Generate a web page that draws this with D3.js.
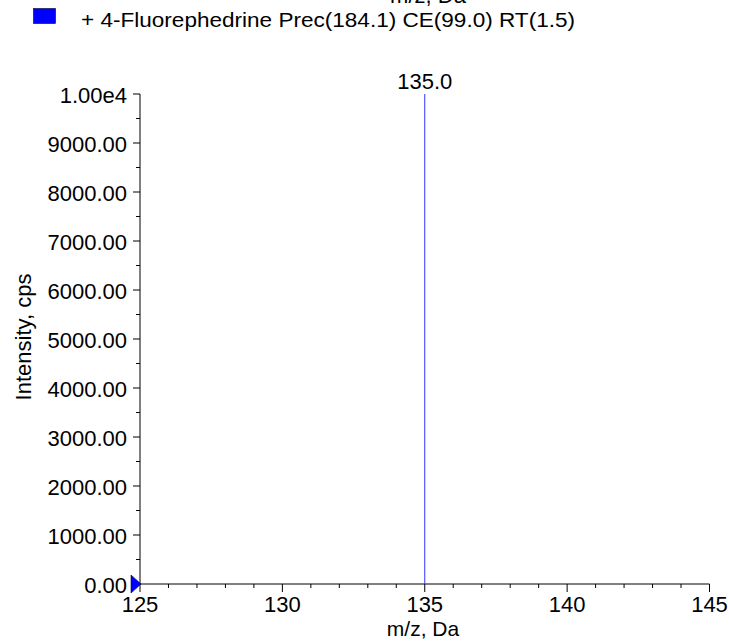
<!DOCTYPE html>
<html>
<head>
<meta charset="utf-8">
<script src="https://cdn.jsdelivr.net/npm/d3@7"></script>
<style>
  body { margin: 0; background: #fff; }
  text { font-family: "Liberation Sans", Arial, sans-serif; fill: #000; }
</style>
</head>
<body>
<svg width="729" height="641"></svg>
<script>
var legendLabel = "+ 4-Fluorephedrine Prec(184.1) CE(99.0) RT(1.5)";
var peakMz = [135.0];
var peakIntensity = [10000];
var peakLabels = ["135.0"];
var xTicks = [125, 130, 135, 140, 145];
var yTicks = [0, 1000, 2000, 3000, 4000, 5000, 6000, 7000, 8000, 9000, 10000];

var svg = d3.select("svg");

var x = d3.scaleLinear().domain([125, 145]).range([140, 709.5]);
var y = d3.scaleLinear().domain([0, 10000]).range([584, 94]);

function yFmt(v) { return v == 10000 ? "1.00e4" : v.toFixed(2); }

// cut-off axis title at top (from a chart above)
svg.append("text")
  .attr("x", 428).attr("y", 3)
  .attr("text-anchor", "middle")
  .style("font-size", "22px")
  .text("m/z, Da");

// legend
svg.append("rect")
  .attr("x", 33.5).attr("y", 8.5).attr("width", 22).attr("height", 15)
  .attr("fill", "#0000ff").attr("stroke", "#000033").attr("stroke-width", 0.6);
svg.append("text")
  .attr("x", 81).attr("y", 27)
  .attr("textLength", 494).attr("lengthAdjust", "spacingAndGlyphs")
  .style("font-size", "20px")
  .text(legendLabel);

// x axis
var xAxis = svg.append("g").attr("transform", "translate(0,584)");
xAxis.append("line").attr("x1", 140).attr("x2", 709.5).attr("stroke", "#000");
xAxis.selectAll("line.minor")
  .data(d3.range(126, 145).filter(function(d) { return d % 5 != 0; }))
  .enter().append("line")
  .attr("class", "minor")
  .attr("x1", function(d) { return x(d); }).attr("x2", function(d) { return x(d); })
  .attr("y1", 0).attr("y2", 4).attr("stroke", "#000");
xAxis.selectAll("line.major")
  .data(xTicks)
  .enter().append("line")
  .attr("class", "major")
  .attr("x1", function(d) { return x(d); }).attr("x2", function(d) { return x(d); })
  .attr("y1", 0).attr("y2", 8).attr("stroke", "#000");
xAxis.selectAll("text.tick")
  .data(xTicks)
  .enter().append("text")
  .attr("x", function(d) { return x(d); }).attr("y", 28)
  .attr("text-anchor", "middle")
  .style("font-size", "22px")
  .text(function(d) { return d; });
svg.append("text")
  .attr("x", 423).attr("y", 636)
  .attr("text-anchor", "middle")
  .style("font-size", "21px")
  .text("m/z, Da");

// y axis
var yAxis = svg.append("g").attr("transform", "translate(140,0)");
yAxis.append("line").attr("y1", 94).attr("y2", 584).attr("stroke", "#000");
yAxis.selectAll("line.minor")
  .data(yTicks.slice(0, -1).map(function(d) { return d + 500; }))
  .enter().append("line")
  .attr("y1", function(d) { return y(d); }).attr("y2", function(d) { return y(d); })
  .attr("x1", -4).attr("x2", 0).attr("stroke", "#000");
yAxis.selectAll("line.major")
  .data(yTicks)
  .enter().append("line")
  .attr("y1", function(d) { return y(d); }).attr("y2", function(d) { return y(d); })
  .attr("x1", -7).attr("x2", 0).attr("stroke", "#000");
yAxis.selectAll("text.tick")
  .data(yTicks)
  .enter().append("text")
  .attr("x", -13).attr("y", function(d) { return y(d) + 9; })
  .attr("text-anchor", "end")
  .style("font-size", "22px")
  .text(yFmt);
svg.append("text")
  .attr("transform", "translate(31,337) rotate(-90)")
  .attr("text-anchor", "middle")
  .style("font-size", "22px")
  .text("Intensity, cps");

// peaks
svg.selectAll("line.peak")
  .data(peakMz)
  .enter().append("line")
  .attr("x1", function(d) { return x(d); }).attr("x2", function(d) { return x(d); })
  .attr("y1", y(0)).attr("y2", function(d, i) { return y(peakIntensity[i]); })
  .attr("stroke", "#3333ff").attr("stroke-width", 1);
svg.selectAll("text.peak")
  .data(peakMz)
  .enter().append("text")
  .attr("x", function(d) { return x(d); })
  .attr("y", function(d, i) { return y(peakIntensity[i]) - 5; })
  .attr("text-anchor", "middle")
  .style("font-size", "22px")
  .text(function(d, i) { return peakLabels[i]; });

// baseline marker
svg.append("path")
  .attr("d", "M131,575 L141,584 L131,593 Z")
  .attr("fill", "#0000ff").attr("stroke", "#000033").attr("stroke-width", 0.6);
</script>
</body>
</html>
